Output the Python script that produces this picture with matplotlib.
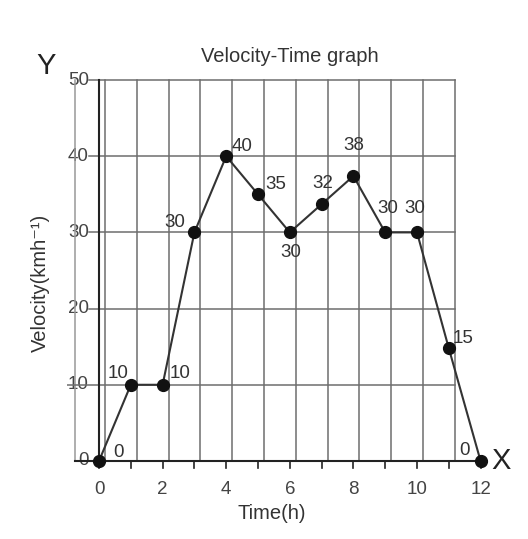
import matplotlib
matplotlib.use("Agg")
import matplotlib.pyplot as plt

plt.rcParams['font.family'] = ['Liberation Sans', 'DejaVu Sans']

time_h = [0, 1, 2, 3, 4, 5, 6, 7, 8, 9, 10, 11, 12]
velocity = [0, 10, 10, 30, 40, 35, 30, 33.7, 37.4, 30, 30, 14.8, 0]
point_labels = ['0', '10', '10', '30', '40', '35', '30', '32', '38', '30', '30', '15', '0']
# label offsets in points (dx, dy), text baseline
label_offsets = [(10, 3), (-17, 5), (5, 5), (-22, 4), (4, 4), (5, 4), (-7, -18),
                 (-7, 12), (-7, 19), (-6, 14), (-9, 14), (3, 4), (-15, 4)]
x_ticks = [0, 2, 4, 6, 8, 10, 12]
y_ticks = [0, 10, 20, 30, 40, 50]

fig = plt.figure(figsize=(5.28, 5.39), dpi=100)
ax = fig.add_axes([0.1273, 0.1165, 0.813, 0.7633])
ax.set_xlim(-1, 12.5)
ax.set_ylim(-2, 52)
ax.axis('off')

grid_c = '#6e6e6e'
num_c = '#444444'
# grid (slightly offset from the axis like in the original drawing)
for k in range(12):
    ax.plot([0.19 + k] * 2, [0, 50], color=grid_c, lw=1.1, zorder=1)
ax.plot([-0.75, -0.75], [0, 50], color='#999999', lw=1.1, zorder=1)
for yv in y_ticks[1:]:
    x_start = -1.0 if yv == 10 else -0.3
    ax.plot([x_start, 11.19], [yv, yv], color=grid_c, lw=1.1, zorder=2)
for yv in y_ticks:
    ax.text(-0.32, yv, str(yv), ha='right', va='center', fontsize=13.5, color=num_c, zorder=0)

# axes
ax.plot([0, 0], [0, 50], color='#222222', lw=1.5, zorder=2)
ax.plot([-0.75, 12], [0, 0], color='#222222', lw=1.5, zorder=2)
for t in range(13):
    ax.plot([t, t], [0, -0.9], color='#222222', lw=1.2, zorder=2)
for t in x_ticks:
    ax.text(t, -2.6, str(t), ha='center', va='top', fontsize=13.5, color=num_c)

# data
ax.plot(time_h, velocity, color='#333333', lw=1.5, marker='o', markersize=8.5,
        markerfacecolor='#111111', markeredgecolor='#111111', zorder=3, clip_on=False)
for x, y, s, off in zip(time_h, velocity, point_labels, label_offsets):
    ax.annotate(s, (x, y), xytext=off, textcoords='offset points', fontsize=13.5,
                color='#333333', ha='left', va='baseline', zorder=4)

ax.text(12.64, 0, 'X', fontsize=21, ha='center', va='center', color='#222222', clip_on=False)
ax.text(-1.67, 51.8, 'Y', fontsize=21, ha='center', va='center', color='#222222', clip_on=False)
ax.text(6.0, 52.4, 'Velocity-Time graph', fontsize=14.5, ha='center', va='baseline',
        color='#333333')
fig.text(0.515, 0.048, 'Time(h)', fontsize=14.5, ha='center', va='center', color='#333333')
fig.text(0.0758, 0.475, 'Velocity(kmh⁻¹)', fontsize=14.5, ha='center', va='center',
         rotation=90, color='#333333')

fig.savefig('out.png', dpi=100)
